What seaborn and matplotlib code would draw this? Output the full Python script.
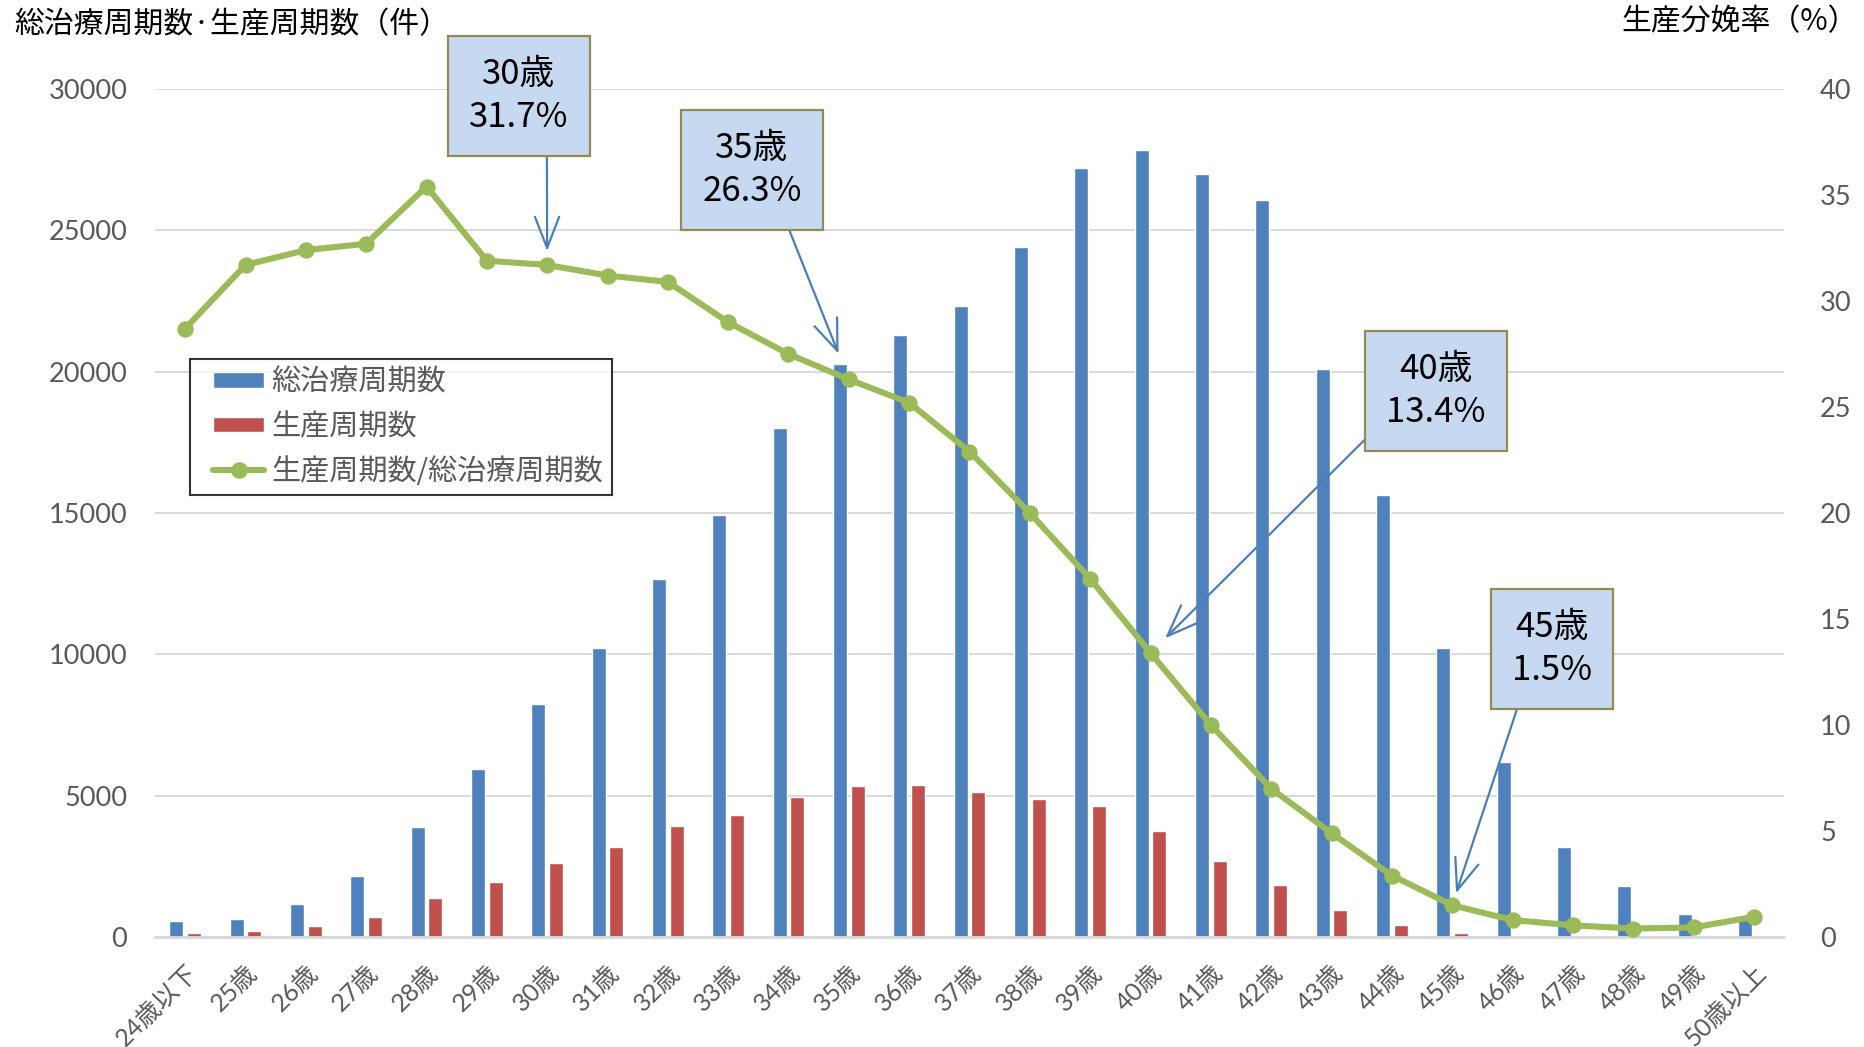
"""
Age-wise ART cycles (total / live-birth) with live-birth rate on a twin axis.
Writes out.png (1864x1047).
"""

import numpy as np
import pandas as pd
import matplotlib
matplotlib.use("Agg")  # headless backend
import matplotlib.pyplot as plt
from matplotlib.patches import Patch
from matplotlib.lines import Line2D
from matplotlib.legend_handler import HandlerPatch, HandlerLine2D
import seaborn as sns

# ── Data ─────────────────────────────────────────────────────────────────────
ages = ["24歳以下", "25歳", "26歳", "27歳", "28歳", "29歳", "30歳", "31歳",
        "32歳", "33歳", "34歳", "35歳", "36歳", "37歳", "38歳", "39歳",
        "40歳", "41歳", "42歳", "43歳", "44歳", "45歳", "46歳", "47歳",
        "48歳", "49歳", "50歳以上"]
total_cycles = [550, 630, 1180, 2150, 3900, 5930, 8250, 10220, 12660, 14930,
                18010, 20280, 21290, 22340, 24400, 27220, 27850, 27010, 26080,
                20110, 15650, 10220, 6180, 3200, 1820, 800, 680]
birth_cycles = [130, 210, 380, 720, 1390, 1930, 2610, 3200, 3910, 4330,
                4960, 5340, 5380, 5130, 4880, 4630, 3740, 2690, 1850,
                970, 430, 130, 40, 15, 8, 4, 6]
birth_rate = [28.7, 31.7, 32.4, 32.7, 35.4, 31.9, 31.7, 31.2, 30.9, 29.0,
              27.5, 26.3, 25.2, 22.9, 20.0, 16.9, 13.4, 10.0, 7.0,
              4.9, 2.9, 1.5, 0.8, 0.55, 0.4, 0.45, 0.95]
series_names = ["総治療周期数", "生産周期数", "生産周期数/総治療周期数"]
callout_ages = ["30歳", "35歳", "40歳", "45歳"]

# ── Style ────────────────────────────────────────────────────────────────────
BLUE, RED, GREEN = "#4F81BD", "#C0504D", "#9BBB59"
GREY_TXT, GRID = "#595959", "#D9D9D9"
JP = ["Noto Sans CJK JP", "DejaVu Sans"]
NUM = ["Lato", "Noto Sans CJK JP"]

sns.set_style("white")
plt.rcParams["font.family"] = JP

W, H = 1864, 1047
fig = plt.figure(figsize=(W / 100, H / 100), dpi=100)
ax1 = fig.add_axes([155 / W, 1 - 937 / H, (1784 - 155) / W, (937 - 89) / H])

# ── Bars ─────────────────────────────────────────────────────────────────────
df = pd.DataFrame({
    "age": ages * 2,
    "cycles": total_cycles + birth_cycles,
    "series": [series_names[0]] * len(ages) + [series_names[1]] * len(ages),
})
sns.barplot(data=df, x="age", y="cycles", hue="series",
            palette=[BLUE, RED], saturation=1, width=0.58, gap=0.2,
            ax=ax1, legend=False, zorder=2)

ax1.set_xlim(-0.5, len(ages) - 0.5)
ax1.set_ylim(0, 30000)
ax1.set_yticks(range(0, 30001, 5000))
ax1.set_xlabel("")
ax1.set_ylabel("")
ax1.grid(axis="y", color=GRID, lw=1.4)
ax1.set_axisbelow(True)
for s in ["left", "right", "top"]:
    ax1.spines[s].set_visible(False)
ax1.spines["bottom"].set_color(GRID)
ax1.spines["bottom"].set_linewidth(2)
ax1.tick_params(axis="y", length=0, pad=20, labelsize=19.5, labelcolor=GREY_TXT)
for t in ax1.get_yticklabels():
    t.set_family(NUM)
ax1.tick_params(axis="x", length=0, pad=17, labelsize=18, labelcolor=GREY_TXT)
ax1.set_xticks(range(len(ages)))
ax1.set_xticklabels(ages, rotation=45, ha="right", va="top",
                    rotation_mode="anchor", family=NUM)

# ── Rate line (right axis) ───────────────────────────────────────────────────
ax2 = ax1.twinx()
ax2.set_position(ax1.get_position())
sns.lineplot(x=np.arange(len(ages)), y=birth_rate, ax=ax2, color=GREEN,
             lw=4.4, marker="o", markersize=11, markeredgecolor=GREEN,
             zorder=3)
ax2.set_ylim(0, 40)
ax2.set_yticks(range(0, 41, 5))
for s in ax2.spines.values():
    s.set_visible(False)
ax2.tick_params(axis="y", length=0, pad=26, labelsize=19.5, labelcolor=GREY_TXT)
for t in ax2.get_yticklabels():
    t.set_family(NUM)

# ── Axis titles ──────────────────────────────────────────────────────────────
fig.text(14 / W, 1 - 25 / H, "総治療周期数·生産周期数（件）", fontsize=21.5,
         va="center", ha="left", color="black")
fig.text(1858 / W, 1 - 22 / H, "生産分娩率（%）", fontsize=21.5,
         va="center", ha="right", color="black")

# ── Legend ───────────────────────────────────────────────────────────────────
handles = [
    Patch(facecolor=BLUE),
    Patch(facecolor=RED),
    Line2D([], [], color=GREEN, lw=4.4, marker="o", markersize=11),
]
leg = ax2.legend(handles, series_names, loc="upper left",
                 bbox_to_anchor=(0.0215, 0.682), frameon=True, fancybox=False,
                 fontsize=21, handlelength=2.25, handleheight=0.45,
                 labelspacing=0.5, borderpad=0.3, handletextpad=0.25,
                 labelcolor=GREY_TXT, borderaxespad=0,
                 handler_map={Patch: HandlerPatch(xpad=0.5),
                              Line2D: HandlerLine2D(xpad=0.5)})
leg.get_frame().set_edgecolor("black")
leg.get_frame().set_linewidth(1.5)
leg.set_zorder(10)

# ── Callouts ─────────────────────────────────────────────────────────────────
# (box centre in figure pixels, arrow start on the box, gap to the point)
callout_layout = {
    "30歳": ((519, 1047 - 96), (0.78, 0.0), 10),
    "35歳": ((752, 1047 - 170), (0.79, 0.0), 20),
    "40歳": ((1436, 1047 - 391), (0.0, 0.15), 15),
    "45歳": ((1552, 1047 - 649), (0.15, 0.0), 9),
}
for age in callout_ages:
    i = ages.index(age)
    centre, relpos, gap = callout_layout[age]
    ax2.annotate(
        f"{age}\n{birth_rate[i]:.1f}%",
        xy=(i, birth_rate[i]), xycoords="data",
        xytext=centre, textcoords="figure pixels",
        ha="center", va="center", fontsize=25, linespacing=1.3,
        color="black", zorder=12,
        bbox=dict(boxstyle="square,pad=0.6", fc="#C6D9F1", ec="#948A54",
                  lw=1.6),
        arrowprops=dict(arrowstyle="->,head_length=0.9,head_width=0.35",
                        color="#4A7EBB", lw=1.6, relpos=relpos,
                        shrinkA=0, shrinkB=gap),
    )

fig.savefig("out.png", dpi=100)
plt.close(fig)
